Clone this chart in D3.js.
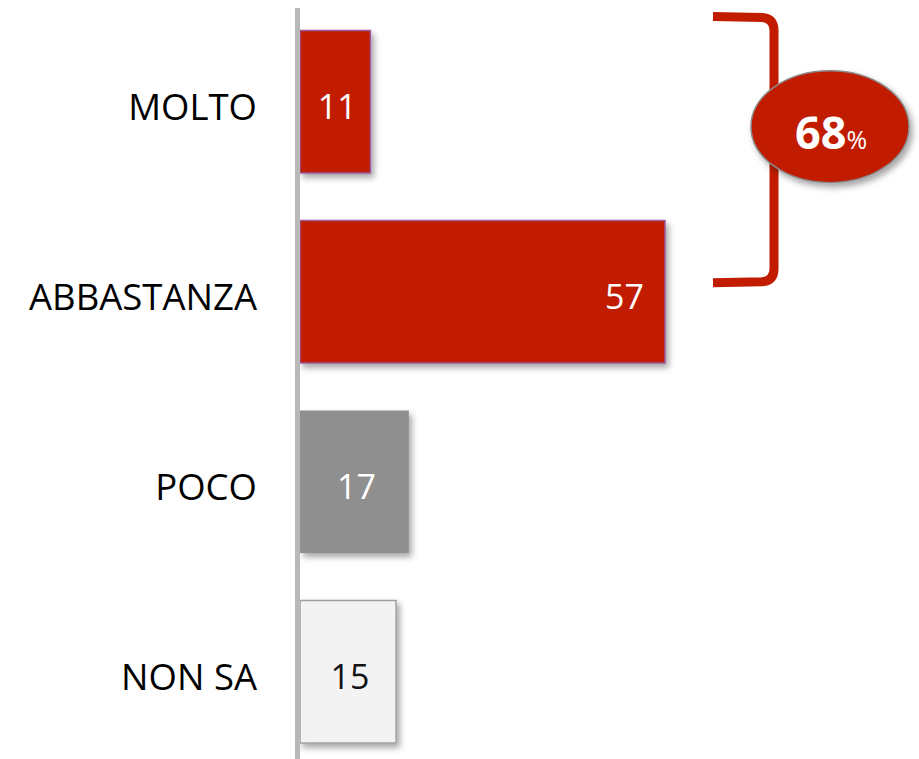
<!DOCTYPE html>
<html>
<head>
<meta charset="utf-8">
<script src="https://cdn.jsdelivr.net/npm/d3@7"></script>
<style>
  body { margin: 0; background: #fff; }
  text { font-family: "Open Sans", "DejaVu Sans", sans-serif; }
</style>
</head>
<body>
<div id="chart"></div>
<script>
const CATEGORIES = ["MOLTO", "ABBASTANZA", "POCO", "NON SA"];
const VALUES = [11, 57, 17, 15];
const FILLS = ["#c11b00", "#c11b00", "#8f8f8f", "#f3f3f3"];
const STROKES = ["#9a5a9a", "#9a5a9a", "none", "#a0a0a0"];
const LABEL_COLORS = ["#fff", "#fff", "#fff", "#111"];
const TOTAL_LABEL = "68";

const width = 919, height = 759;

const svg = d3.select("#chart").append("svg")
    .attr("width", width)
    .attr("height", height);

// drop shadow like the office chart
const defs = svg.append("defs");
const f = defs.append("filter").attr("id", "shadow")
    .attr("x", "-20%").attr("y", "-20%").attr("width", "150%").attr("height", "150%");
f.append("feDropShadow")
    .attr("dx", 3).attr("dy", 4).attr("stdDeviation", 3)
    .attr("flood-color", "#000").attr("flood-opacity", 0.35);

const x = d3.scaleLinear().domain([0, 57]).range([300, 665]);
const y = d3.scaleBand().domain(CATEGORIES)
    .range([6.75, 766.75])
    .paddingInner(0.25)
    .paddingOuter(0.125);

// bars
svg.selectAll("rect.bar")
    .data(CATEGORIES)
    .enter().append("rect")
    .attr("class", "bar")
    .attr("x", x(0))
    .attr("y", d => y(d))
    .attr("width", (d, i) => x(VALUES[i]) - x(0))
    .attr("height", y.bandwidth())
    .attr("fill", (d, i) => FILLS[i])
    .attr("stroke", (d, i) => STROKES[i])
    .attr("stroke-width", 1.5)
    .attr("filter", "url(#shadow)");

// axis line
svg.append("line")
    .attr("x1", 297.5).attr("x2", 297.5)
    .attr("y1", 8).attr("y2", height)
    .attr("stroke", "#b8b8b8")
    .attr("stroke-width", 5);

// category labels
svg.selectAll("text.cat")
    .data(CATEGORIES)
    .enter().append("text")
    .attr("class", "cat")
    .attr("x", 257)
    .attr("y", d => y(d) + y.bandwidth() / 2 + 5)
    .attr("dy", "0.35em")
    .attr("text-anchor", "end")
    .attr("font-size", 36.5)
    .attr("fill", "#000")
    .text(d => d);

// value labels
svg.selectAll("text.val")
    .data(CATEGORIES)
    .enter().append("text")
    .attr("class", "val")
    .attr("x", (d, i) => VALUES[i] > 30 ? x(VALUES[i]) - 21 : (x(0) + x(VALUES[i])) / 2 + 2)
    .attr("y", d => y(d) + y.bandwidth() / 2 + 5)
    .attr("dy", "0.35em")
    .attr("text-anchor", (d, i) => VALUES[i] > 30 ? "end" : "middle")
    .attr("font-size", 34)
    .attr("fill", (d, i) => LABEL_COLORS[i])
    .text((d, i) => VALUES[i]);

// bracket grouping MOLTO + ABBASTANZA
const brTop = y("MOLTO") - 14;
const brBottom = y("ABBASTANZA") + y.bandwidth() / 2 - 9;
const bx = 774;
svg.append("path")
    .attr("d", `M713,${brTop} L762,${brTop + 1} Q${bx},${brTop + 2} ${bx},${brTop + 14}
                L${bx},${brBottom - 14} Q${bx},${brBottom - 2} 762,${brBottom - 1} L713,${brBottom}`)
    .attr("fill", "none")
    .attr("stroke", "#c11b00")
    .attr("stroke-width", 9);

// total bubble
const cy = (brTop + brBottom) / 2 - 23;
svg.append("ellipse")
    .attr("cx", 830).attr("cy", cy)
    .attr("rx", 79).attr("ry", 56)
    .attr("fill", "#c11b00")
    .attr("stroke", "#8a8a8a")
    .attr("stroke-width", 1.5)
    .attr("filter", "url(#shadow)");

const tot = svg.append("text")
    .attr("x", 831).attr("y", cy + 22)
    .attr("text-anchor", "middle")
    .attr("fill", "#fff");
tot.append("tspan")
    .attr("font-size", 45).attr("font-weight", "bold")
    .text(TOTAL_LABEL);
tot.append("tspan")
    .attr("font-size", 25)
    .text("%");
</script>
</body>
</html>
